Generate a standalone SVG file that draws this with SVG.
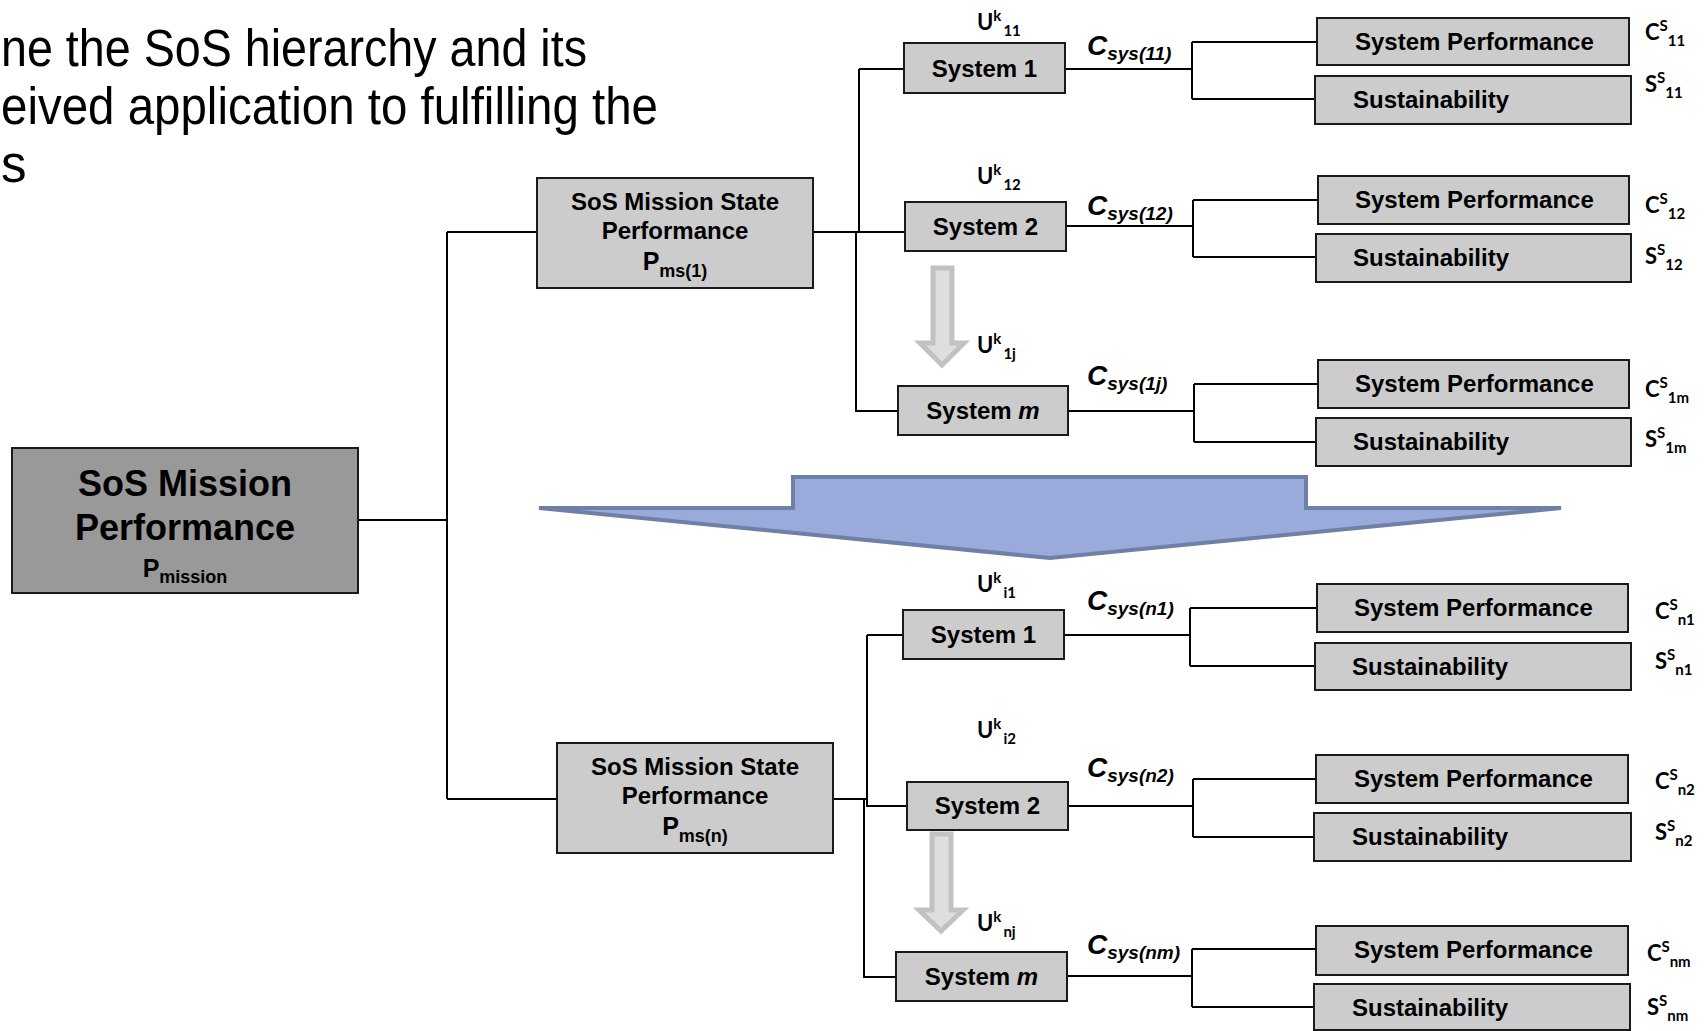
<svg xmlns="http://www.w3.org/2000/svg" width="1708" height="1031" viewBox="0 0 1708 1031">
  <defs>
    <style>
      .box { fill: #cccccc; stroke: #1a1a1a; stroke-width: 2; }
      .root { fill: #999999; stroke: #1a1a1a; stroke-width: 2; }
      .wire { fill: none; stroke: #000000; stroke-width: 2; }
      .t { font-family: "Liberation Sans", Arial, sans-serif; font-weight: bold; font-size: 24px; fill: #000000; }
      .mid { text-anchor: middle; }
      .big { font-size: 36px; }
      .p { font-size: 25px; }
      .p .sub { font-size: 18px; }
      .title { font-family: "Liberation Sans", Arial, sans-serif; font-size: 51px; fill: #000000; }
      .csys { font-family: "Liberation Sans", Arial, sans-serif; font-weight: bold; font-style: italic; font-size: 28px; fill: #000000; }
      .csys .sub { font-size: 19px; }
      .sym { font-family: Lato, "Open Sans", sans-serif; font-weight: bold; font-size: 22px; fill: #000000; }
      .sym .s { font-size: 15px; }
      .hollow { fill: #dedede; stroke: #c2c2c2; stroke-width: 5; stroke-linejoin: miter; }
      .bigarrow { fill: #99aadb; stroke: #6f7fa8; stroke-width: 4; stroke-linejoin: miter; }
    </style>
  </defs>

  <rect width="1708" height="1031" fill="#ffffff"/>

  <!-- heading text, running off the left edge -->
  <g id="heading">
    <text class="title" x="1" y="66" textLength="586" lengthAdjust="spacingAndGlyphs">ne the SoS hierarchy and its</text>
    <text class="title" x="1" y="124" textLength="657" lengthAdjust="spacingAndGlyphs">eived application to fulfilling the</text>
    <text class="title" x="1" y="182">s</text>
  </g>

  <!-- tree wiring -->
  <g id="connectors">
    <!-- mission to the two mission states -->
    <path class="wire" d="M358 520 H447 M447 232 V799 M447 232 H537 M447 799 H557"/>
    <!-- mission state 1 to its systems -->
    <path class="wire" d="M813 232 H905 M859 69 V232 M859 69 H904 M856 232 V411 H898"/>
    <!-- mission state n to its systems -->
    <path class="wire" d="M833 799 H867 M867 635 V806 H907 M867 635 H903 M864 799 V977 H896"/>
    <!-- systems to performance / sustainability -->
    <path class="wire" d="M1065 69 H1192 M1192 42 V99 M1192 42 H1317 M1192 99 H1315"/>
    <path class="wire" d="M1066 226 H1193 M1193 200 V257 M1193 200 H1318 M1193 257 H1316"/>
    <path class="wire" d="M1068 411 H1194 M1194 384 V442 M1194 384 H1318 M1194 442 H1316"/>
    <path class="wire" d="M1064 635 H1190 M1190 608 V666 M1190 608 H1317 M1190 666 H1315"/>
    <path class="wire" d="M1068 806 H1193 M1193 779 V837 M1193 779 H1316 M1193 837 H1314"/>
    <path class="wire" d="M1067 976 H1192 M1192 949 V1007 M1192 949 H1316 M1192 1007 H1314"/>
  </g>

  <!-- root -->
  <g id="mission">
    <rect class="root" x="12" y="448" width="346" height="145"/>
    <text class="t mid big" x="185" y="496">SoS Mission</text>
    <text class="t mid big" x="185" y="540">Performance</text>
    <text class="t mid p" x="185" y="577">P<tspan class="sub" dy="6">mission</tspan></text>
  </g>

  <!-- mission states -->
  <g id="state-1">
    <rect class="box" x="537" y="178" width="276" height="110"/>
    <text class="t mid" x="675" y="210">SoS Mission State</text>
    <text class="t mid" x="675" y="239">Performance</text>
    <text class="t mid p" x="675" y="270">P<tspan class="sub" dy="7">ms(1)</tspan></text>
  </g>
  <g id="state-n">
    <rect class="box" x="557" y="743" width="276" height="110"/>
    <text class="t mid" x="695" y="775">SoS Mission State</text>
    <text class="t mid" x="695" y="804">Performance</text>
    <text class="t mid p" x="695" y="835">P<tspan class="sub" dy="7">ms(n)</tspan></text>
  </g>

  <!-- systems of mission state 1 -->
  <g id="sys-1-1">
    <rect class="box" x="904" y="43" width="161" height="50"/>
    <text class="t mid" x="984.5" y="77">System 1</text>
  </g>
  <g id="sys-1-2">
    <rect class="box" x="905" y="202" width="161" height="49"/>
    <text class="t mid" x="985.5" y="235">System 2</text>
  </g>
  <g id="sys-1-m">
    <rect class="box" x="898" y="386" width="170" height="49"/>
    <text class="t mid" x="983" y="419">System <tspan font-style="italic">m</tspan></text>
  </g>

  <!-- systems of mission state n -->
  <g id="sys-n-1">
    <rect class="box" x="903" y="610" width="161" height="49"/>
    <text class="t mid" x="983.5" y="643">System 1</text>
  </g>
  <g id="sys-n-2">
    <rect class="box" x="907" y="782" width="161" height="48"/>
    <text class="t mid" x="987.5" y="814">System 2</text>
  </g>
  <g id="sys-n-m">
    <rect class="box" x="896" y="952" width="171" height="49"/>
    <text class="t mid" x="981.5" y="985">System <tspan font-style="italic">m</tspan></text>
  </g>

  <!-- "and so on" arrows between System 2 and System m -->
  <g id="ellipsis-arrows">
    <polygon class="hollow" points="933,268 952,268 952,343 964,343 942,365 920,343 933,343"/>
    <polygon class="hollow" points="932,834 951,834 951,910 963,910 941,931 919,910 932,910"/>
  </g>

  <!-- performance / sustainability leaves -->
  <g id="perf-11"><rect class="box" x="1317" y="18" width="312" height="47"/><text class="t" x="1355" y="50">System Performance</text></g>
  <g id="sust-11"><rect class="box" x="1315" y="76" width="316" height="48"/><text class="t" x="1353" y="108">Sustainability</text></g>
  <g id="perf-12"><rect class="box" x="1318" y="176" width="311" height="48"/><text class="t" x="1355" y="208">System Performance</text></g>
  <g id="sust-12"><rect class="box" x="1316" y="234" width="315" height="48"/><text class="t" x="1353" y="266">Sustainability</text></g>
  <g id="perf-1m"><rect class="box" x="1318" y="360" width="311" height="48"/><text class="t" x="1355" y="392">System Performance</text></g>
  <g id="sust-1m"><rect class="box" x="1316" y="418" width="315" height="48"/><text class="t" x="1353" y="450">Sustainability</text></g>
  <g id="perf-n1"><rect class="box" x="1317" y="584" width="311" height="48"/><text class="t" x="1354" y="616">System Performance</text></g>
  <g id="sust-n1"><rect class="box" x="1315" y="643" width="316" height="47"/><text class="t" x="1352" y="675">Sustainability</text></g>
  <g id="perf-n2"><rect class="box" x="1316" y="755" width="312" height="48"/><text class="t" x="1354" y="787">System Performance</text></g>
  <g id="sust-n2"><rect class="box" x="1314" y="813" width="317" height="48"/><text class="t" x="1352" y="845">Sustainability</text></g>
  <g id="perf-nm"><rect class="box" x="1316" y="926" width="312" height="49"/><text class="t" x="1354" y="958">System Performance</text></g>
  <g id="sust-nm"><rect class="box" x="1314" y="984" width="316" height="46"/><text class="t" x="1352" y="1016">Sustainability</text></g>

  <!-- transition between mission states -->
  <g id="state-transition">
    <polygon class="bigarrow" points="539,508 793,508 793,477 1306,477 1306,508 1561,508 1050,558"/>
  </g>

  <!-- symbols: system use, capability, performance / sustainability scores -->
  <g id="symbols">
    <text class="sym" x="977" y="30">U<tspan class="s" dy="-9">k</tspan><tspan class="s" dx="2" dy="15">11</tspan></text>
    <text class="sym" x="977" y="184">U<tspan class="s" dy="-9">k</tspan><tspan class="s" dx="2" dy="15">12</tspan></text>
    <text class="sym" x="977" y="353">U<tspan class="s" dy="-9">k</tspan><tspan class="s" dx="2" dy="15">1j</tspan></text>
    <text class="sym" x="977" y="592">U<tspan class="s" dy="-9">k</tspan><tspan class="s" dx="2" dy="15">i1</tspan></text>
    <text class="sym" x="977" y="738">U<tspan class="s" dy="-9">k</tspan><tspan class="s" dx="2" dy="15">i2</tspan></text>
    <text class="sym" x="977" y="931">U<tspan class="s" dy="-9">k</tspan><tspan class="s" dx="2" dy="15">nj</tspan></text>

    <text class="csys" x="1087" y="55">C<tspan class="sub" dy="5">sys(11)</tspan></text>
    <text class="csys" x="1087" y="215">C<tspan class="sub" dy="5">sys(12)</tspan></text>
    <text class="csys" x="1087" y="385">C<tspan class="sub" dy="5">sys(1j)</tspan></text>
    <text class="csys" x="1087" y="610">C<tspan class="sub" dy="5">sys(n1)</tspan></text>
    <text class="csys" x="1087" y="777">C<tspan class="sub" dy="5">sys(n2)</tspan></text>
    <text class="csys" x="1087" y="954">C<tspan class="sub" dy="5">sys(nm)</tspan></text>

    <text class="sym" x="1645" y="40">C<tspan class="s" dy="-9">S</tspan><tspan class="s" dy="15">11</tspan></text>
    <text class="sym" x="1645" y="92">S<tspan class="s" dy="-9">S</tspan><tspan class="s" dy="15">11</tspan></text>
    <text class="sym" x="1645" y="213">C<tspan class="s" dy="-9">S</tspan><tspan class="s" dy="15">12</tspan></text>
    <text class="sym" x="1645" y="264">S<tspan class="s" dy="-9">S</tspan><tspan class="s" dy="15">12</tspan></text>
    <text class="sym" x="1645" y="397">C<tspan class="s" dy="-9">S</tspan><tspan class="s" dy="15">1m</tspan></text>
    <text class="sym" x="1645" y="447">S<tspan class="s" dy="-9">S</tspan><tspan class="s" dy="15">1m</tspan></text>
    <text class="sym" x="1655" y="619">C<tspan class="s" dy="-9">S</tspan><tspan class="s" dy="15">n1</tspan></text>
    <text class="sym" x="1655" y="669">S<tspan class="s" dy="-9">S</tspan><tspan class="s" dy="15">n1</tspan></text>
    <text class="sym" x="1655" y="789">C<tspan class="s" dy="-9">S</tspan><tspan class="s" dy="15">n2</tspan></text>
    <text class="sym" x="1655" y="840">S<tspan class="s" dy="-9">S</tspan><tspan class="s" dy="15">n2</tspan></text>
    <text class="sym" x="1647" y="961">C<tspan class="s" dy="-9">S</tspan><tspan class="s" dy="15">nm</tspan></text>
    <text class="sym" x="1647" y="1015">S<tspan class="s" dy="-9">S</tspan><tspan class="s" dy="15">nm</tspan></text>
  </g>
</svg>
